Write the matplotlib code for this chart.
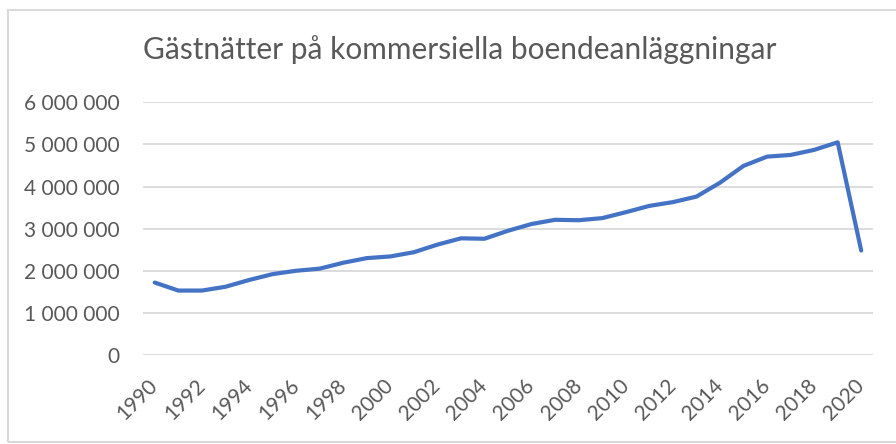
import matplotlib
matplotlib.use("Agg")
import matplotlib.pyplot as plt
from matplotlib.patches import Rectangle

years = list(range(1990, 2021))
nights = [1720000, 1530000, 1530000, 1620000, 1780000, 1920000, 2000000, 2050000,
          2190000, 2300000, 2340000, 2440000, 2620000, 2770000, 2760000, 2950000,
          3110000, 3210000, 3200000, 3250000, 3390000, 3540000, 3630000, 3760000,
          4090000, 4490000, 4710000, 4750000, 4870000, 5050000, 2480000]
yticks = [0, 1000000, 2000000, 3000000, 4000000, 5000000, 6000000]
ytick_labels = ["0", "1 000 000", "2 000 000", "3 000 000", "4 000 000", "5 000 000", "6 000 000"]
xtick_years = list(range(1990, 2021, 2))
title = "Gästnätter på kommersiella boendeanläggningar"

W, H = 896, 444
plt.rcParams['font.family'] = ['Lato', 'DejaVu Sans']
fig = plt.figure(figsize=(W / 100, H / 100), dpi=100)

# chart border
fig.patches.append(Rectangle((8 / W, 2 / H), 2.0, (442 - 10) / H, transform=fig.transFigure,
                             fill=False, edgecolor='#d9d9d9', linewidth=1.5))

ax = fig.add_axes([143 / W, 1 - 355 / H, (873 - 143) / W, (355 - 102.3) / H])
ax.plot(years, nights, color='#4472C4', linewidth=3, solid_capstyle='round', solid_joinstyle='round')
ax.set_xlim(1989.5, 2020.5)
ax.set_ylim(0, 6000000)
ax.set_yticks(yticks)
ax.set_yticklabels(ytick_labels)
ax.set_xticks(xtick_years)
ax.set_xticklabels([str(y) for y in xtick_years], rotation=45, ha='right', va='center',
                   rotation_mode='anchor')
ax.grid(axis='y', color='#d9d9d9', linewidth=1.3)
ax.set_axisbelow(True)
for s in ax.spines.values():
    s.set_visible(False)
ax.tick_params(axis='y', length=0, pad=17, labelsize=15, labelcolor='#595959')
ax.tick_params(axis='x', length=0, pad=20, labelsize=15, labelcolor='#595959')

fig.text(460 / W, 1 - 50 / H, title, ha='center', va='center', fontsize=21.5, color='#595959')

fig.savefig('out.png', dpi=100)
